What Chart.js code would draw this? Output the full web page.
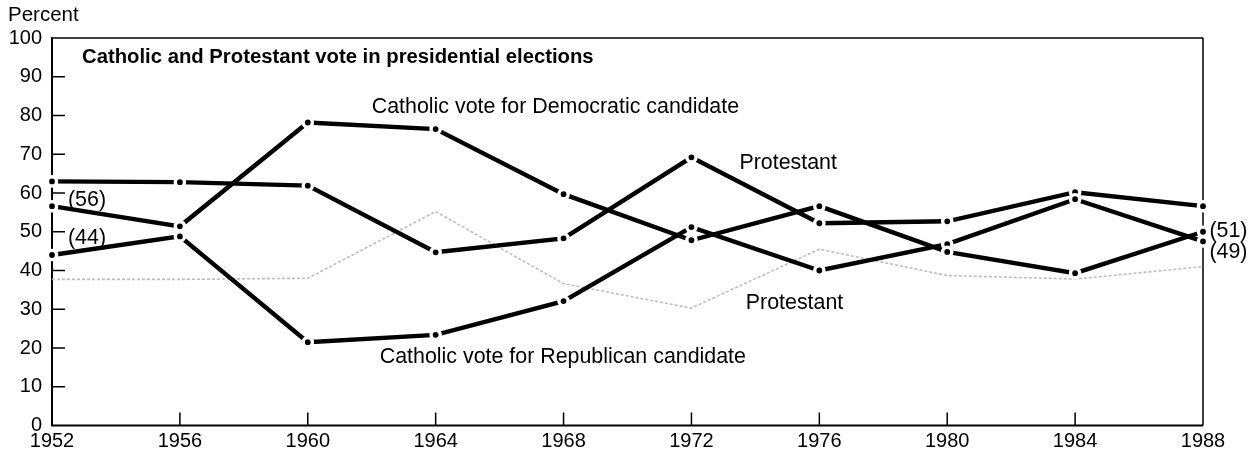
<!DOCTYPE html>
<html>
<head>
<meta charset="utf-8">
<script src="https://cdn.jsdelivr.net/npm/chart.js@4.4.1/dist/chart.umd.min.js"></script>
<style>
  html, body { margin: 0; padding: 0; background: #fff; }
  #wrap { width: 1253px; height: 465px; }
</style>
</head>
<body>
<div id="wrap"><canvas id="c" width="1253" height="465"></canvas></div>
<script>
// ---- data ----
const years = [1952, 1956, 1960, 1964, 1968, 1972, 1976, 1980, 1984, 1988];
const catholicDem   = [56.6, 51.4, 78.2, 76.5, 59.7, 47.8, 56.6, 44.8, 39.3, 50.0];
const catholicRep   = [44.0, 48.8, 21.5, 23.4, 32.1, 51.2, 40.0, 46.8, 58.4, 47.5];
const protestantRep = [63.0, 62.8, 61.9, 44.7, 48.3, 69.2, 52.2, 52.7, 60.2, 56.6];
const protestantDem = [37.7, 37.7, 38.0, 55.2, 36.6, 30.3, 45.5, 38.7, 37.8, 41.0];
const yTicks = [0, 10, 20, 30, 40, 50, 60, 70, 80, 90, 100];

const titleText = 'Catholic and Protestant vote in presidential elections';
const yAxisTitle = 'Percent';
// series labels: [text, year position (left edge), value position (middle)]
const seriesLabels = [
  ['Catholic vote for Democratic candidate', 1962.0, 82.2],
  ['Protestant', 1973.5, 67.7],
  ['Protestant', 1973.7, 31.6],
  ['Catholic vote for Republican candidate', 1962.25, 17.7],
  ['(56)', 1952.5, 58.2],
  ['(44)', 1952.5, 48.4],
  ['(51)', 1988.2, 50.2],
  ['(49)', 1988.2, 44.8]
];

const FONT = '"Liberation Sans", Arial, Helvetica, sans-serif';
const toPts = arr => years.map((y, i) => ({ x: y, y: arr[i] }));

const blackLine = (label, arr) => ({
  label,
  data: toPts(arr),
  borderColor: '#000',
  borderWidth: 4.4,
  pointRadius: 4.6,
  pointBorderWidth: 3.4,
  pointBorderColor: '#fff',
  pointBackgroundColor: '#000',
  tension: 0,
  clip: false
});

const decorPlugin = {
  id: 'decor',
  beforeDatasetsDraw(chart) {
    const { ctx, chartArea: a, scales: { x, y } } = chart;
    ctx.save();
    ctx.strokeStyle = '#000';
    ctx.lineCap = 'butt';
    // frame
    ctx.lineWidth = 1.5;
    ctx.beginPath();
    ctx.moveTo(a.left, a.top); ctx.lineTo(a.right, a.top);
    ctx.moveTo(a.right, a.top); ctx.lineTo(a.right, a.bottom);
    ctx.stroke();
    ctx.lineWidth = 2;
    ctx.beginPath();
    ctx.moveTo(a.left, a.top - 1); ctx.lineTo(a.left, a.bottom);
    ctx.lineTo(a.right, a.bottom);
    ctx.stroke();
    // inner tick marks
    ctx.lineWidth = 1.5;
    ctx.beginPath();
    yTicks.slice(1, -1).forEach(v => {
      const py = y.getPixelForValue(v);
      ctx.moveTo(a.left, py); ctx.lineTo(a.left + 13, py);
    });
    years.slice(1, -1).forEach(v => {
      const px = x.getPixelForValue(v);
      ctx.moveTo(px, a.bottom); ctx.lineTo(px, a.bottom - 13);
    });
    ctx.stroke();
    ctx.restore();
  },
  afterDraw(chart) {
    const { ctx, chartArea: a, scales: { x, y } } = chart;
    ctx.save();
    ctx.fillStyle = '#000';
    ctx.textBaseline = 'middle';
    ctx.textAlign = 'left';
    ctx.font = '20.5px ' + FONT;
    ctx.fillText(yAxisTitle, 8, 15);
    ctx.font = 'bold 20.3px ' + FONT;
    ctx.fillText(titleText, a.left + 30, a.top + 19);
    ctx.font = '21.4px ' + FONT;
    seriesLabels.forEach(([t, xv, yv]) => {
      ctx.fillText(t, x.getPixelForValue(xv), y.getPixelForValue(yv));
    });
    ctx.restore();
  }
};

new Chart(document.getElementById('c'), {
  type: 'line',
  data: {
    datasets: [
      blackLine('Catholic vote for Democratic candidate', catholicDem),
      blackLine('Catholic vote for Republican candidate', catholicRep),
      blackLine('Protestant vote for Republican candidate', protestantRep),
      {
        label: 'Protestant vote for Democratic candidate',
        data: toPts(protestantDem),
        borderColor: '#bdbdbd',
        borderWidth: 1.6,
        borderDash: [3, 2],
        pointRadius: 0,
        tension: 0,
        clip: false
      }
    ]
  },
  options: {
    responsive: false,
    animation: false,
    events: [],
    layout: { padding: { left: 0, right: 50, top: 38, bottom: 0 } },
    plugins: { legend: { display: false }, tooltip: { enabled: false }, title: { display: false } },
    scales: {
      x: {
        type: 'linear',
        min: 1952, max: 1988,
        afterFit(s) { s.height = 39.5; },
        afterBuildTicks(s) { s.ticks = years.map(v => ({ value: v })); },
        grid: { display: false, drawTicks: false },
        border: { display: false },
        ticks: {
          padding: 4,
          color: '#000',
          font: { family: FONT, size: 20 },
          maxRotation: 0,
          autoSkip: false,
          callback: v => String(v)
        }
      },
      y: {
        min: 0, max: 100,
        afterFit(s) { s.width = 52; },
        afterBuildTicks(s) { s.ticks = yTicks.map(v => ({ value: v })); },
        grid: { display: false, drawTicks: false },
        border: { display: false },
        ticks: {
          padding: 10,
          color: '#000',
          font: { family: FONT, size: 20 },
          callback: v => String(v)
        }
      }
    }
  },
  plugins: [decorPlugin]
});
</script>
</body>
</html>
